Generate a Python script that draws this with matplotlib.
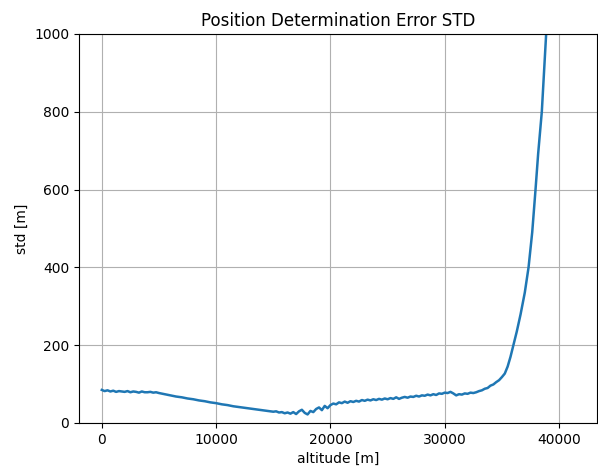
import matplotlib
matplotlib.use('Agg')
import matplotlib.pyplot as plt

# altitude [m] and std of the position error [m]
altitude = [0, 250, 500, 750, 1000, 1250, 1500, 1750, 2000, 2250,
            2500, 2750, 3000, 3250, 3500, 3750, 4000, 4250, 4500, 4750,
            5000, 5500, 6000, 6500, 7000, 7500, 8000, 8500, 9000, 9500,
            10000, 10500, 11000, 11500, 12000, 12500, 13000, 13500, 14000, 14500,
            15000, 15250, 15500, 15750, 16000, 16250, 16500, 16750, 17000, 17250,
            17500, 17750, 18000, 18250, 18500, 18750, 19000, 19250, 19500, 19750,
            20000, 20250, 20500, 20750, 21000, 21250, 21500, 21750, 22000, 22250,
            22500, 22750, 23000, 23250, 23500, 23750, 24000, 24250, 24500, 24750,
            25000, 25250, 25500, 25750, 26000, 26250, 26500, 26750, 27000, 27250,
            27500, 27750, 28000, 28250, 28500, 28750, 29000, 29250, 29500, 29750,
            30000, 30250, 30500, 30750, 31000, 31250, 31500, 31750, 32000, 32250,
            32500, 32750, 33000, 33250, 33500, 33750, 34000, 34250, 34500, 34750,
            35000, 35250, 35500, 35750, 36000, 36300, 36630, 37000, 37330, 37650,
            37940, 38170, 38490, 38690, 38870, 39300, 39800, 40300, 41000]
std = [85, 82, 84, 81, 83, 80, 82, 81, 80, 82,
       79, 81, 80, 78, 81, 79, 79, 80, 78, 79,
       77, 74, 71, 68, 66, 63, 61, 58, 56, 53,
       51, 48, 46, 43, 41, 39, 37, 35, 33, 31,
       29, 30, 27, 28, 25, 27, 24, 28, 23, 30,
       34, 26, 22, 31, 28, 36, 40, 33, 44, 38,
       46, 50, 48, 53, 51, 55, 52, 56, 54, 57,
       55, 59, 57, 60, 58, 61, 59, 62, 60, 63,
       61, 64, 62, 66, 62, 65, 67, 65, 68, 67,
       70, 68, 71, 70, 73, 71, 74, 72, 76, 75,
       78, 77, 80, 76, 71, 74, 73, 76, 75, 78,
       77, 79, 82, 84, 88, 90, 96, 99, 105, 110,
       118, 127, 145, 170, 200, 235, 279, 335, 400, 490,
       600, 692, 800, 907, 1000, 1200, 1500, 1900, 2500]

fig = plt.figure(figsize=(5.98, 4.70), dpi=100)
ax = fig.add_axes([0.132, 0.1, 0.866, 0.828])
ax.plot(altitude, std, color='tab:blue', linewidth=1.8)
ax.set_xlim(-2000, 43300)
ax.set_ylim(0, 1000)
ax.grid(True)
ax.set_title('Position Determination Error STD')
ax.set_xlabel('altitude [m]')
ax.set_ylabel('std [m]')

fig.savefig('out.png', dpi=100)
